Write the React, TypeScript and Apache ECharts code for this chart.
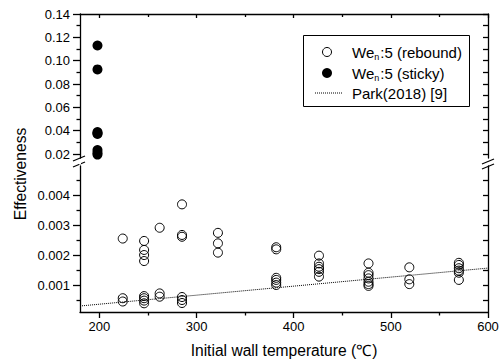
import React, { useEffect, useRef } from "react";
import * as echarts from "echarts";

// ---- data ----
const reboundTemps = [
  224, 224, 224,
  246, 246, 246, 246, 246, 246, 246, 246,
  262, 262, 262,
  285, 285, 285, 285, 285, 285,
  322, 322, 322,
  382, 382, 382, 382, 382, 382,
  426, 426, 426, 426, 426, 426,
  477, 477, 477, 477, 477, 477, 477,
  519, 519, 519,
  570, 570, 570, 570, 570, 570,
];
const reboundValues = [
  0.00255, 0.00056, 0.00045,
  0.00247, 0.00217, 0.002, 0.0018, 0.00063, 0.00056, 0.00048, 0.00039,
  0.00291, 0.00072, 0.00061,
  0.00369, 0.00267, 0.00261, 0.0006, 0.0005, 0.0004,
  0.00274, 0.00239, 0.00208,
  0.00226, 0.00219, 0.00124, 0.00117, 0.00108, 0.001,
  0.00198, 0.00172, 0.00161, 0.00153, 0.00144, 0.00128,
  0.00172, 0.00141, 0.00133, 0.00122, 0.00111, 0.00103, 0.00097,
  0.00159, 0.00119, 0.00103,
  0.00174, 0.00167, 0.00156, 0.00148, 0.00141, 0.00117,
];
const stickyTemps = [198, 198, 198, 198, 198, 198, 198, 198];
const stickyValues = [0.113, 0.0925, 0.0388, 0.0378, 0.0372, 0.0234, 0.021, 0.0195];
const parkTemps = [180, 615];
const parkValues = [0.0003, 0.00161];

const xMajor = [200, 300, 400, 500, 600];
const xMinor = [250, 350, 450, 550];
const yUpperMajor = [0.02, 0.04, 0.06, 0.08, 0.1, 0.12, 0.14];
const yUpperMinor = [0.03, 0.05, 0.07, 0.09, 0.11, 0.13];
const yLowerMajor = [0.001, 0.002, 0.003, 0.004];
const yLowerMinor = [0.0005, 0.0015, 0.0025, 0.0035, 0.0045];

const FONT = "'Liberation Sans', Arial, Helvetica, sans-serif";
const BLACK = "#000";
const AXW = 1.3;

function xAxisDef(grid: number, position: string, values: number[], len: number, inside: boolean, showLine: boolean, labels: boolean, name?: string) {
  return {
    type: "value",
    gridIndex: grid,
    position,
    min: 180,
    max: 600,
    name: name || "",
    nameLocation: "middle",
    nameGap: 30,
    nameTextStyle: { color: BLACK, fontSize: 15.6, fontFamily: FONT },
    axisLine: { show: showLine, onZero: false, lineStyle: { color: BLACK, width: AXW } },
    axisTick: { show: true, inside, length: len, customValues: values, lineStyle: { color: BLACK, width: AXW } },
    axisLabel: labels
      ? { show: true, customValues: values, margin: 8, color: BLACK, fontSize: 13, fontFamily: FONT }
      : { show: false },
    splitLine: { show: false },
  };
}

function yAxisDef(grid: number, position: string, min: number, max: number, values: number[], len: number, inside: boolean, showLine: boolean, labels: boolean, digits: number) {
  return {
    type: "value",
    gridIndex: grid,
    position,
    min,
    max,
    axisLine: { show: showLine, onZero: false, lineStyle: { color: BLACK, width: AXW } },
    axisTick: { show: true, inside, length: len, customValues: values, lineStyle: { color: BLACK, width: AXW } },
    axisLabel: labels
      ? {
          show: true,
          customValues: values,
          margin: 10,
          color: BLACK,
          fontSize: 13,
          fontFamily: FONT,
          formatter: (v: number) => v.toFixed(digits),
        }
      : { show: false },
    splitLine: { show: false },
  };
}

export default function App() {
  const ref = useRef<HTMLDivElement>(null);

  useEffect(() => {
    if (!ref.current) return;
    const chart = echarts.init(ref.current, null, { renderer: "svg" });

    const U_MIN = 0.0166, U_MAX = 0.14;
    const L_MIN = 0.0001, L_MAX = 0.00497;

    const rich = {
      a: { fontSize: 15, fontFamily: FONT, color: BLACK, lineHeight: 18 },
      s: { fontSize: 9, fontFamily: FONT, color: BLACK, verticalAlign: "bottom", lineHeight: 10, padding: [0, 1, 0, 0] },
    };

    const option: any = {
      animation: false,
      backgroundColor: "#fff",
      grid: [
        { left: 80, right: 15, top: 14, height: 144 },
        { left: 80, right: 15, top: 166, height: 146 },
      ],
      xAxis: [
        xAxisDef(1, "bottom", xMajor, 6, false, true, true, "Initial wall temperature (\u2103)"),
        xAxisDef(1, "bottom", xMinor, 3.5, false, false, false),
        xAxisDef(0, "top", xMajor, 4, true, true, false),
        xAxisDef(0, "top", xMinor, 3, true, false, false),
      ],
      yAxis: [
        yAxisDef(0, "left", U_MIN, U_MAX, yUpperMajor, 7, false, true, true, 2),
        yAxisDef(0, "left", U_MIN, U_MAX, yUpperMinor, 3.5, false, false, false, 2),
        yAxisDef(0, "right", U_MIN, U_MAX, yUpperMajor, 5, true, true, false, 2),
        yAxisDef(0, "right", U_MIN, U_MAX, yUpperMinor, 5, true, false, false, 2),
        yAxisDef(1, "left", L_MIN, L_MAX, yLowerMajor, 7, false, true, true, 3),
        yAxisDef(1, "left", L_MIN, L_MAX, yLowerMinor, 3.5, false, false, false, 3),
        yAxisDef(1, "right", L_MIN, L_MAX, yLowerMajor, 5, true, true, false, 3),
        yAxisDef(1, "right", L_MIN, L_MAX, yLowerMinor, 5, true, false, false, 3),
      ],
      series: [
        {
          name: "Park(2018) [9]",
          type: "line",
          xAxisIndex: 0,
          yAxisIndex: 4,
          data: parkTemps.map((t, i) => [t, parkValues[i]]),
          showSymbol: false,
          symbol: "none",
          clip: false,
          lineStyle: { color: BLACK, width: 1, type: [1, 1], opacity: 1 },
          z: 2,
        },
        {
          name: "Wen:5 (rebound)",
          type: "scatter",
          xAxisIndex: 0,
          yAxisIndex: 4,
          data: reboundTemps.map((t, i) => [t, reboundValues[i]]),
          symbol: "circle",
          symbolSize: 9,
          itemStyle: { color: "rgba(255,255,255,0)", borderColor: BLACK, borderWidth: 1, opacity: 1 },
          z: 3,
        },
        {
          name: "Wen:5 (sticky)",
          type: "scatter",
          xAxisIndex: 2,
          yAxisIndex: 0,
          data: stickyTemps.map((t, i) => [t, stickyValues[i]]),
          symbol: "circle",
          symbolSize: 10,
          itemStyle: { color: BLACK, opacity: 1 },
          z: 3,
        },
      ],
      graphic: [
        // y-axis title
        {
          type: "text",
          x: 20,
          y: 174,
          rotation: Math.PI / 2,
          style: { text: "Effectiveness", fontSize: 15.6, fontFamily: FONT, fill: BLACK, align: "center", verticalAlign: "middle" },
        },
        // axis break marks (left)
        { type: "line", shape: { x1: 73, y1: 161, x2: 85, y2: 156 }, style: { stroke: BLACK, lineWidth: 1.2 } },
        { type: "line", shape: { x1: 73, y1: 167, x2: 85, y2: 162 }, style: { stroke: BLACK, lineWidth: 1.2 } },
        { type: "rect", shape: { x: 79, y: 159.5, width: 2, height: 5 }, style: { fill: "#fff" } },
        // axis break marks (right)
        { type: "line", shape: { x1: 482, y1: 164, x2: 494, y2: 159 }, style: { stroke: BLACK, lineWidth: 1.2 } },
        { type: "line", shape: { x1: 482, y1: 169, x2: 494, y2: 164 }, style: { stroke: BLACK, lineWidth: 1.2 } },
        // legend
        {
          type: "rect",
          shape: { x: 303.5, y: 35.5, width: 166, height: 71 },
          style: { fill: "#fff", stroke: BLACK, lineWidth: 1 },
          z: 10,
        },
        { type: "circle", shape: { cx: 327, cy: 52, r: 4.5 }, style: { fill: "#fff", stroke: BLACK, lineWidth: 1 }, z: 11 },
        { type: "circle", shape: { cx: 327, cy: 73, r: 5 }, style: { fill: BLACK }, z: 11 },
        { type: "line", shape: { x1: 315, y1: 93, x2: 342, y2: 93 }, style: { stroke: BLACK, lineWidth: 1, lineDash: [1, 1] }, z: 11 },
        {
          type: "text",
          x: 352,
          y: 52,
          z: 11,
          style: { text: "{a|We}{s|n}{a|:5 (rebound)}", rich, verticalAlign: "middle", fill: BLACK },
        },
        {
          type: "text",
          x: 352,
          y: 73,
          z: 11,
          style: { text: "{a|We}{s|n}{a|:5 (sticky)}", rich, verticalAlign: "middle", fill: BLACK },
        },
        {
          type: "text",
          x: 352,
          y: 93,
          z: 11,
          style: { text: "Park(2018) [9]", fontSize: 15, fontFamily: FONT, fill: BLACK, verticalAlign: "middle" },
        },
      ],
    };

    chart.setOption(option);
    return () => chart.dispose();
  }, []);

  return <div ref={ref} style={{ width: 503, height: 360, position: "absolute", left: 0, top: 0 }} />;
}
